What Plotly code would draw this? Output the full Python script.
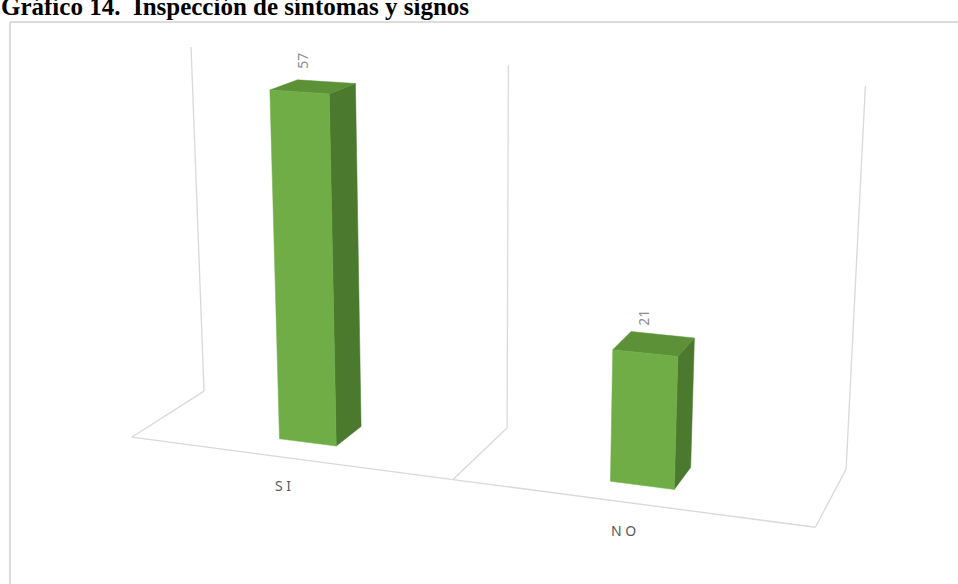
import numpy as np
import plotly.graph_objects as go

# ---- data ----
categories = ["SI", "NO"]
values = [57, 21]
value_max = 60

title_text = "Gráfico 14.  Inspección de síntomas y signos"

# ---- 3D column view: rotation + perspective ----
ROT_X = np.radians(20)   # rotation around the vertical axis
ROT_Y = np.radians(15)   # downward tilt
DIST = 2000.0            # camera distance (perspective strength)
CAT_W = 360.0            # width of one category slot
FLOOR_D = 162.0          # floor depth
WALL_H = 388.0           # wall height for value_max
CENTER = (481.0, 270.0)  # screen position of the scene centre
BAR_FRAC = 0.18          # bar width as a fraction of a category slot
BAR_Z = (0.3, 0.7)       # bar front/back as fraction of floor depth (0 = front)

FRONT = "#70AD47"
SIDE = "#4B7A2E"
TOP = "#5C9138"
GRID = "#D9D9D9"


def project(cat, val, z):
    """Map (category position, value, depth) to screen pixels."""
    n = len(categories)
    xw = (np.asarray(cat, float) - n / 2) * CAT_W
    zw = (0.5 - np.asarray(z, float)) * FLOOR_D
    yw = np.asarray(val, float) / value_max * WALL_H - WALL_H / 2
    u = xw * np.cos(ROT_X) - zw * np.sin(ROT_X)
    d = xw * np.sin(ROT_X) + zw * np.cos(ROT_X)
    v = yw * np.cos(ROT_Y) - d * np.sin(ROT_Y)
    depth = DIST - (d * np.cos(ROT_Y) + yw * np.sin(ROT_Y))
    k = DIST / depth
    return CENTER[0] + u * k, CENTER[1] - v * k


fig = go.Figure()

# walls and floor: category separators + front axis line
gx, gy = [], []
n = len(categories)
for b in range(n + 1):
    px, py = project([b, b], [0, value_max], [1, 1])
    gx += list(px) + [None]
    gy += list(py) + [None]
    px, py = project([b, b], [0, 0], [1, 0])
    gx += list(px) + [None]
    gy += list(py) + [None]
px, py = project([0, n], [0, 0], [0, 0])
gx += list(px)
gy += list(py)
fig.add_trace(go.Scatter(x=gx, y=gy, mode="lines",
                         line=dict(color=GRID, width=1.3),
                         hoverinfo="skip"))


def face(pts, color):
    cat, val, z = zip(*pts)
    px, py = project(cat, val, z)
    fig.add_trace(go.Scatter(x=list(px) + [px[0]], y=list(py) + [py[0]],
                             mode="lines", fill="toself", fillcolor=color,
                             line=dict(color=color, width=0.5),
                             hoverinfo="skip"))


zf, zb = BAR_Z
for i, val in enumerate(values):
    x0 = i + 0.5 - BAR_FRAC / 2
    x1 = i + 0.5 + BAR_FRAC / 2
    face([(x1, 0, zf), (x1, 0, zb), (x1, val, zb), (x1, val, zf)], SIDE)
    face([(x0, val, zf), (x1, val, zf), (x1, val, zb), (x0, val, zb)], TOP)
    face([(x0, 0, zf), (x1, 0, zf), (x1, val, zf), (x0, val, zf)], FRONT)

annotations = []
for i, (cat, val) in enumerate(zip(categories, values)):
    lx, ly = project(i + 0.5, val, 0.5)
    annotations.append(dict(x=float(lx), y=float(ly), text=str(val),
                            showarrow=False, textangle=-90,
                            xshift=-10, yshift=26,
                            font=dict(family="Noto Sans", size=14, color="#8C8C8C")))
    cx, cy = project(i + 0.5, 0, 0)
    annotations.append(dict(x=float(cx), y=float(cy), text=" ".join(cat),
                            showarrow=False, xshift=-5, yshift=-28,
                            font=dict(family="Noto Sans", size=14, color="#595959")))

# title, partly above the top edge of the page
annotations.append(dict(x=0, y=22, xanchor="left", yanchor="bottom", xshift=-1,
                        text="<b>" + title_text + "</b>", showarrow=False,
                        font=dict(family="Liberation Serif", size=25, color="#000000")))

# chart-area border (top and left edges)
shapes = [
    dict(type="line", x0=10, y0=22, x1=958, y1=22, line=dict(color="#D0D0D0", width=1.5)),
    dict(type="line", x0=10, y0=22, x1=10, y1=584, line=dict(color="#D0D0D0", width=1.5)),
]

fig.update_layout(
    width=958, height=584,
    margin=dict(l=0, r=0, t=0, b=0),
    paper_bgcolor="white", plot_bgcolor="white",
    showlegend=False,
    xaxis=dict(range=[0, 958], visible=False, fixedrange=True),
    yaxis=dict(range=[584, 0], visible=False, fixedrange=True),
    annotations=annotations,
    shapes=shapes,
)

fig.write_html("out.html")
